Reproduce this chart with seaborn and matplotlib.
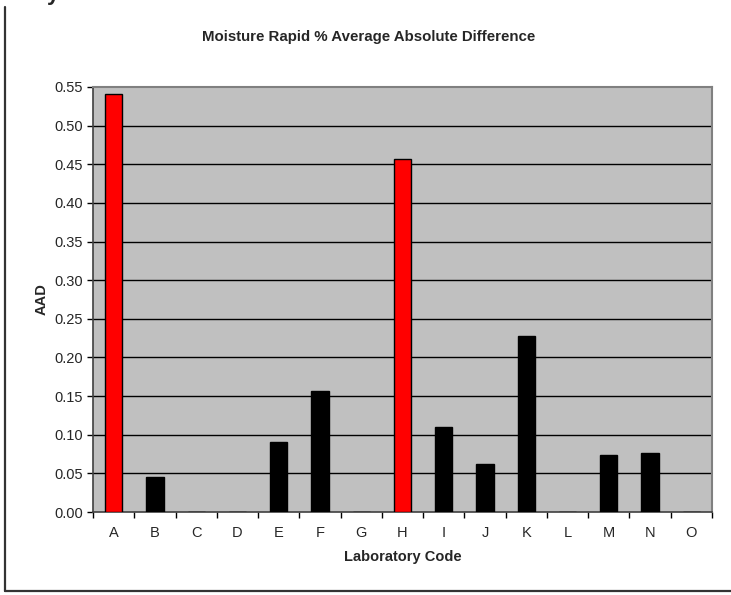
import matplotlib
matplotlib.use('Agg')
import matplotlib.pyplot as plt
from matplotlib.lines import Line2D
import seaborn as sns
import pandas as pd
import numpy as np

labs = ['A', 'B', 'C', 'D', 'E', 'F', 'G', 'H', 'I', 'J', 'K', 'L', 'M', 'N', 'O']
aad = [0.541, 0.045, 0.0, 0.0, 0.091, 0.156, 0.0, 0.457, 0.110, 0.062, 0.228, 0.0, 0.074, 0.077, 0.0]
flagged = ['A', 'H']
yticks = [0.00, 0.05, 0.10, 0.15, 0.20, 0.25, 0.30, 0.35, 0.40, 0.45, 0.50, 0.55]

df = pd.DataFrame({'lab': labs, 'aad': aad})
colors = {l: ('#ff0000' if l in flagged else '#000000') for l in labs}

sns.set_style('white')
plt.rcParams['font.family'] = ['Liberation Sans', 'DejaVu Sans']

fig = plt.figure(figsize=(7.31, 5.95), dpi=100)
ax = fig.add_axes([93/731, 83/595, 619/731, 425/595])
ax.set_facecolor('#c0c0c0')

sns.barplot(data=df, x='lab', y='aad', hue='lab', palette=colors, legend=False,
            width=0.42, edgecolor='black', linewidth=1.0, saturation=1, ax=ax, zorder=3)

ax.set_ylim(0, 0.55)
ax.set_xlim(-0.5, len(labs) - 0.5)
ax.set_yticks(yticks)
ax.set_yticklabels([f'{v:.2f}' for v in yticks], fontsize=10.5)
ax.tick_params(axis='y', length=4, width=1, color='black', pad=3, direction='out', left=True)
ax.tick_params(axis='x', which='major', length=0, pad=10, labelsize=10.5)
ax.set_xticks(np.arange(-0.5, len(labs), 1), minor=True)
ax.tick_params(axis='x', which='minor', length=4, width=1, color='black', direction='out', bottom=True)

for v in yticks[1:-1]:
    ax.axhline(v, color='black', lw=1, zorder=1)

for s in ['top', 'right']:
    ax.spines[s].set_color('#808080')
    ax.spines[s].set_linewidth(1.5)
ax.spines['left'].set_color('#404040')
ax.spines['bottom'].set_color('#404040')
ax.spines['left'].set_linewidth(1.2)
ax.spines['bottom'].set_linewidth(1.2)

ax.set_ylabel('AAD', fontsize=10.5, fontweight='bold', labelpad=4)
ax.set_xlabel('Laboratory Code', fontsize=10.5, fontweight='bold', labelpad=7)
fig.text(369/731, 1 - 37/595, 'Moisture Rapid % Average Absolute Difference',
         ha='center', va='center', fontsize=10.8, fontweight='bold')

# cut-off text from the page above
fig.text(47/731, 1.0, 'y', va='baseline', ha='left', fontsize=16, fontweight='bold')

# outer frame (left and bottom edge)
fig.add_artist(Line2D([5/731, 5/731], [1 - 7/595, 1 - 591/595], transform=fig.transFigure,
                      color='#333333', lw=1.6))
fig.add_artist(Line2D([5/731, 1], [1 - 591/595, 1 - 591/595], transform=fig.transFigure,
                      color='#333333', lw=1.6))

fig.savefig('out.png', dpi=100)
